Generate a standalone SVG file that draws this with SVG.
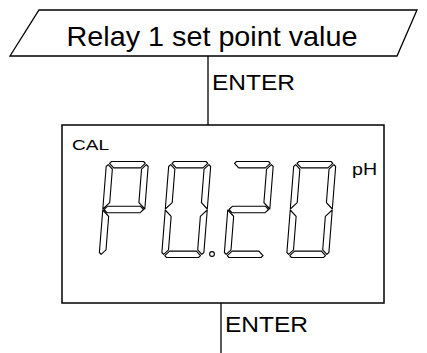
<svg xmlns="http://www.w3.org/2000/svg" xmlns:xlink="http://www.w3.org/1999/xlink" width="427" height="353" viewBox="0 0 427 353">
<style>
.ln{fill:none;stroke:#000;stroke-width:1.3}
.seg{fill:#fff;stroke:#000;stroke-width:1.1;stroke-linejoin:round}
.t{font-family:"Liberation Sans",Arial,sans-serif;fill:#000}
</style>
<defs>
<polygon id="sa" points="5,0 37,0 38.9,1.9 34.4,6.4 7.6,6.4 3.1,1.9"/>
<polygon id="sb" points="42,5 40.1,3.1 35.6,7.6 35.6,41.1 42,47.5"/>
<polygon id="sc" points="42,48.5 35.6,54.9 35.6,88.4 40.1,92.9 42,91"/>
<polygon id="sd" points="3.1,94.1 7.6,89.6 34.4,89.6 38.9,94.1 37,96 5,96"/>
<polygon id="se" points="0,48.5 6.4,54.9 6.4,88.4 1.9,92.9 0,91"/>
<polygon id="sf" points="0,5 1.9,3.1 6.4,7.6 6.4,41.1 0,47.5"/>
<polygon id="sg" points="1.2,48 4.4,44.8 37.6,44.8 40.8,48 37.6,51.2 4.4,51.2"/>
</defs>
<rect width="427" height="353" fill="#fff"/>
<g id="connectors">
<line class="ln" x1="208" y1="56" x2="208" y2="125"/>
<line class="ln" x1="221" y1="303" x2="221" y2="353"/>
</g>
<g id="setpoint">
<polygon class="ln" points="39,10 417,10 397,56 10,56"/>
<text class="t" x="66.5" y="45.5" font-size="28" textLength="291" lengthAdjust="spacingAndGlyphs">Relay 1 set point value</text>
</g>
<g id="enter-top">
<text class="t" x="212" y="90" font-size="22" textLength="83" lengthAdjust="spacingAndGlyphs">ENTER</text>
</g>
<g id="display">
<rect class="ln" x="62" y="125" width="322" height="178" style="stroke-width:1.5"/>
<text class="t" x="72" y="149.5" font-size="15.5" textLength="37" lengthAdjust="spacingAndGlyphs">CAL</text>
<text class="t" x="352" y="175" font-size="16" textLength="25" lengthAdjust="spacingAndGlyphs">pH</text>
<g class="seg" transform="translate(99,257.5) skewX(-4.5) translate(0,-96)">
<use xlink:href="#sa"/><use xlink:href="#sb"/><use xlink:href="#sf"/><use xlink:href="#sg"/><use xlink:href="#se"/>
</g>
<g class="seg" transform="translate(161.5,257.5) skewX(-4.5) translate(0,-96)">
<use xlink:href="#sa"/><use xlink:href="#sb"/><use xlink:href="#sc"/><use xlink:href="#sd"/><use xlink:href="#se"/><use xlink:href="#sf"/>
</g>
<circle class="seg" cx="212" cy="254" r="2.4"/>
<g class="seg" transform="translate(224,257.5) skewX(-4.5) translate(0,-96)">
<use xlink:href="#sa"/><use xlink:href="#sb"/><use xlink:href="#sg"/><use xlink:href="#se"/><use xlink:href="#sd"/>
</g>
<g class="seg" transform="translate(286.5,257.5) skewX(-4.5) translate(0,-96)">
<use xlink:href="#sa"/><use xlink:href="#sb"/><use xlink:href="#sc"/><use xlink:href="#sd"/><use xlink:href="#se"/><use xlink:href="#sf"/>
</g>
</g>
<g id="enter-bottom">
<text class="t" x="225" y="332" font-size="22" textLength="83" lengthAdjust="spacingAndGlyphs">ENTER</text>
</g>
</svg>
